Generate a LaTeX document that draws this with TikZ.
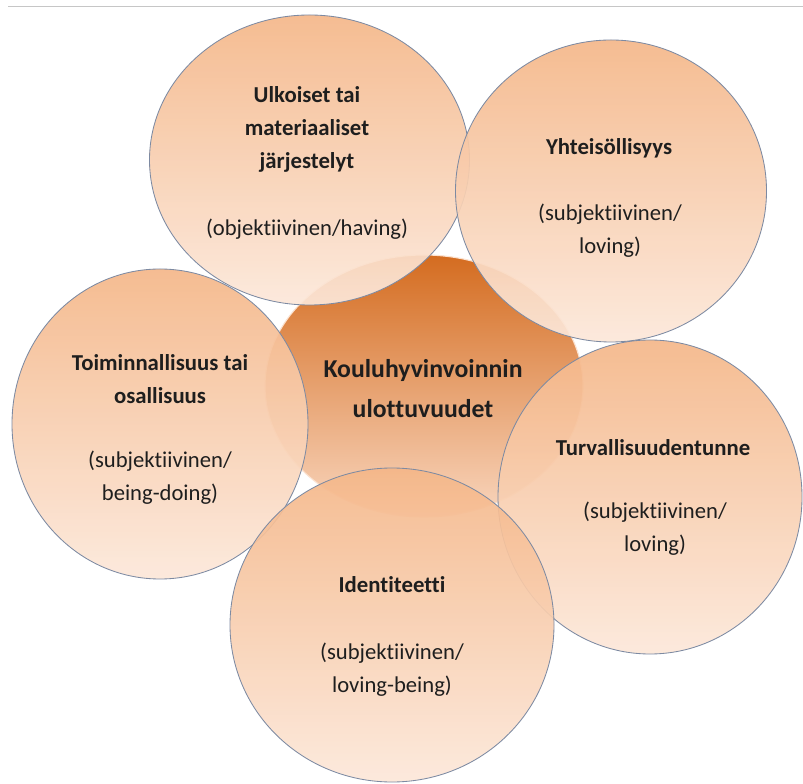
\documentclass[tikz,border=0pt]{standalone}
\usepackage{fontspec}
\setmainfont{Carlito}[Ligatures=NoCommon]
\definecolor{peachtop}{RGB}{245,183,137}
\definecolor{peachbot}{RGB}{252,232,218}
\definecolor{hubtop}{RGB}{212,108,32}
\definecolor{hubmid}{RGB}{242,176,128}
\definecolor{hubbot}{RGB}{249,214,190}
\definecolor{ringline}{RGB}{125,138,162}
\definecolor{textgrey}{RGB}{30,30,30}

\begin{document}
\begin{tikzpicture}[
ring/.style={draw=ringline,line width=0.6pt,top color=peachtop,bottom color=peachbot,fill opacity=0.92},
headtext/.style={font=\fontsize{16.2}{23.5}\selectfont\bfseries,text=textgrey,align=center},
subtext/.style={font=\fontsize{16.1}{23.5}\selectfont,text=textgrey,align=center},
hubtext/.style={font=\fontsize{18.3}{28.5}\selectfont\bfseries,text=textgrey,align=center}]
\useasboundingbox (0,0) rectangle (20.075,19.575);
\fill[white] (0,0) rectangle (20.075,19.575);
\draw[gray!45,line width=0.7pt] (0.2,19.4) -- (20.075,19.4);

\shade[top color=hubtop,middle color=hubmid,bottom color=hubbot] (10.6,9.925) ellipse (3.975 and 3.275);
\draw[white!60!peachtop,line width=0.8pt] (10.6,9.925) ellipse (3.975 and 3.275);

\draw[ring] (7.7375,15.575) ellipse (4.0 and 3.625);
\draw[ring] (15.275,14.8) ellipse (3.8875 and 3.775);
\draw[ring] (4.0,8.975) ellipse (3.7 and 3.875);
\draw[ring] (16.25,7.15) ellipse (3.8 and 3.925);
\draw[ring] (9.8,3.95) ellipse (4.05 and 3.925);

\node[hubtext] (hub) at (10.575,9.85) {Kouluhyvinvoinnin\\ulottuvuudet};

\node[headtext] (ulk) at (7.675,16.34) {Ulkoiset tai\\materiaaliset\\järjestelyt};
\node[subtext] (ulk-sub) at (7.675,13.85) {(objektiivinen/having)};

\node[headtext] (yht) at (15.225,15.875) {Yhteisöllisyys};
\node[subtext] (yht-sub) at (15.25,13.81) {(subjektiivinen/\\loving)};

\node[headtext] (toi) at (4.0,10.1) {Toiminnallisuus tai\\osallisuus};
\node[subtext] (toi-sub) at (4.0,7.6375) {(subjektiivinen/\\being-doing)};

\node[headtext] (tur) at (16.325,8.375) {Turvallisuudentunne};
\node[subtext] (tur-sub) at (16.375,6.35) {(subjektiivinen/\\loving)};

\node[headtext] (ide) at (9.8,4.95) {Identiteetti};
\node[subtext] (ide-sub) at (9.8,2.825) {(subjektiivinen/\\loving-being)};

\end{tikzpicture}
\end{document}
